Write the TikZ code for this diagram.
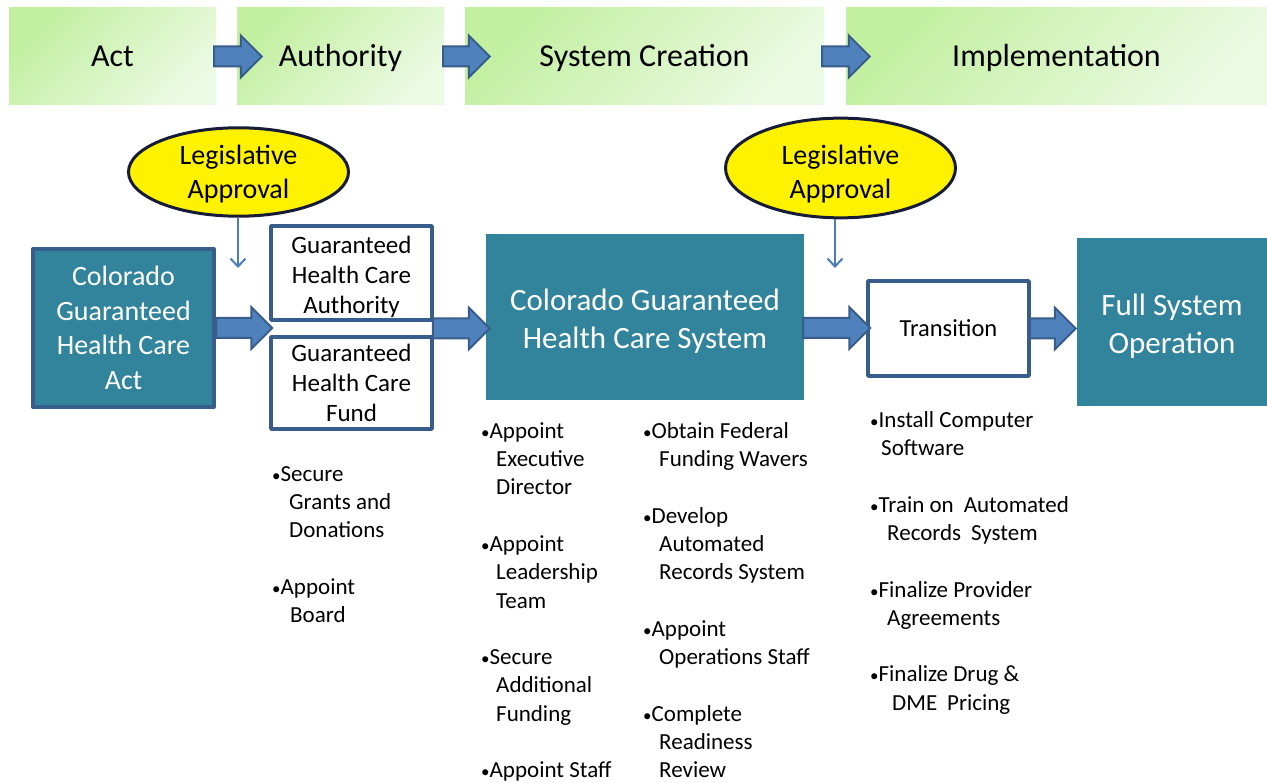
\documentclass[tikz,border=0pt]{standalone}
\usepackage{fontspec}
\setmainfont{Carlito}
\usetikzlibrary{arrows.meta,shapes.geometric,calc}
\definecolor{hdrA}{HTML}{C2EFA0}
\definecolor{hdrB}{HTML}{EBFAE3}
\definecolor{boxteal}{HTML}{31849B}
\definecolor{boxline}{HTML}{385D8A}
\definecolor{arrowfill}{HTML}{4F81BD}
\definecolor{arrowline}{HTML}{385D8A}
\definecolor{legline}{HTML}{161C38}
\definecolor{thinblue}{HTML}{4A7EBB}
% fat block arrow from #1 to #2 (tip at #2)
\newcommand{\fatarrow}[2]{%
  \path[fatarrow] let \p1=(#1), \p2=(#2) in
    (\x1,\y1+10pt) -- (\x2-21pt,\y1+10pt) -- (\x2-21pt,\y1+21pt) -- (\x2,\y1)
    -- (\x2-21pt,\y1-21pt) -- (\x2-21pt,\y1-10pt) -- (\x1,\y1-10pt) -- cycle;}
\newcommand{\bul}{{\fontsize{17}{17}\selectfont •}}
\newcommand{\drop}[1]{\rule{0pt}{#1pt}}
\begin{document}
\begin{tikzpicture}[x=1pt,y=-1pt,line join=round,
  hdr/.style={minimum width=#1,minimum height=97,inner sep=0,text height=22,text depth=2,top color=hdrA,bottom color=hdrB,shading angle=45,font=\fontsize{32}{38}\selectfont},
  tealbox/.style={fill=boxteal,text=white,align=center,inner sep=0},
  whitebox/.style={draw=boxline,line width=3.5pt,fill=white,align=center,inner sep=0,minimum width=161},
  legis/.style={ellipse,draw=legline,line width=3pt,fill=yellow,inner sep=0,align=center,font=\fontsize{28}{34}\selectfont},
  legarrow/.style={draw=thinblue,line width=2pt,-{Straight Barb[length=8pt,width=15pt]}},
  fatarrow/.style={fill=arrowfill,draw=arrowline,line width=2pt,line join=miter},
  bullets/.style={anchor=north west,inner sep=0,align=left,font=\fontsize{23}{28.3}\selectfont}]
\useasboundingbox (0,0) rectangle (1267,783);
% ve cac khung tieu de
\node[hdr=207] (act) at (112.5,56.5) {Act};
\node[hdr=207] (auth) at (340.5,56.5) {Authority};
\node[hdr=359] (syscr) at (644.5,56.5) {System Creation};
\node[hdr=421] (impl) at (1056.5,56.5) {Implementation};
\fatarrow{$(act.east)+(-2,0)$}{$(auth.west)+(25,0)$}
\fatarrow{$(auth.east)+(-1,0)$}{$(syscr.west)+(25,0)$}
\fatarrow{$(syscr.east)+(-2,0)$}{$(impl.west)+(24,0)$}
% ve cac khoi chinh
\node[tealbox,draw=boxline,line width=4pt,minimum width=181,minimum height=158,font=\fontsize{28}{34.5}\selectfont] (cgha) at (123.5,328) {Colorado\\Guaranteed\\Health Care\\Act};
\node[whitebox,minimum height=94,font=\fontsize{25}{30}\selectfont] (ghca) at (351.5,273) {\drop{25.5}Guaranteed\\Health Care\\Authority};
\node[whitebox,minimum height=92,font=\fontsize{25}{30}\selectfont] (ghcf) at (351.5,383) {Guaranteed\\Health Care\\Fund};
\coordinate (gap) at ($(ghca.south west)!0.5!(ghcf.north west)$);
\coordinate (gapE) at ($(ghca.south east)!0.5!(ghcf.north east)$);
\node[tealbox,minimum width=318,minimum height=166,font=\fontsize{31}{38}\selectfont] (cghs) at (645,317) {\drop{30}Colorado Guaranteed\\Health Care System};
\node[whitebox,minimum height=95,font=\fontsize{24.5}{30}\selectfont] (trans) at (948.5,328.5) {Transition};
\node[tealbox,minimum width=190,minimum height=168,font=\fontsize{31}{38}\selectfont] (full) at (1172,322) {\drop{30}Full System\\Operation};
% ve cac mui ten
\fatarrow{cgha.east}{$(gap)+(3,0)$}
\fatarrow{$(gapE)+(-1,0)$}{$(cghs.west)+(4,0)$}
\fatarrow{$(cghs.east)+(-1,11)$}{$(trans.west)+(4,0)$}
\fatarrow{$(trans.east)+(-1,0)$}{$(full.west)+(-1,0)$}
% phe duyet
\node[legis,minimum width=220,minimum height=85] (leg1) at (238.5,172) {\drop{24}Legislative\\Approval};
\node[legis,minimum width=230,minimum height=83] (leg2) at (840.5,168) {\drop{32}Legislative\\Approval};
\coordinate (la1) at (238,268);
\coordinate (la2) at (835,268);
\draw[legarrow] (leg1.south -| la1) -- (la1);
\draw[legarrow] (leg2.south -| la2) -- (la2);
% danh sach cong viec
\node[bullets] (fundlist) at (272,461.2) {\strut\bul Secure\\\hspace*{17pt}Grants and\\\hspace*{17pt}Donations\\[28.3pt]\bul Appoint\\\hspace*{18pt}Board};
\node[bullets] (syslistA) at (481,418.2) {\strut\bul Appoint\\\hspace*{15pt}Executive\\\hspace*{15pt}Director\\[28.3pt]\bul Appoint\\\hspace*{15pt}Leadership\\\hspace*{15pt}Team\\[28.3pt]\bul Secure\\\hspace*{15pt}Additional\\\hspace*{15pt}Funding\\[28.3pt]\bul Appoint Staff};
\node[bullets] (syslistB) at (643,418.2) {\strut\bul Obtain Federal\\\hspace*{16pt}Funding Wavers\\[28.3pt]\bul Develop\\\hspace*{16pt}Automated\\\hspace*{16pt}Records System\\[28.3pt]\bul Appoint\\\hspace*{16pt}Operations Staff\\[28.3pt]\bul Complete\\\hspace*{16pt}Readiness\\\hspace*{16pt}Review};
\node[bullets] (translist) at (870,407.2) {\strut\bul Install Computer\\\hspace*{11pt}Software\\[28.3pt]\bul Train on\hspace{10pt}Automated\\\hspace*{17pt}Records\hspace{10pt}System\\[28.3pt]\bul Finalize Provider\\\hspace*{17pt}Agreements\\[28.3pt]\bul Finalize Drug \&\\\hspace*{22pt}DME\hspace{10pt}Pricing};
\end{tikzpicture}
\end{document}
